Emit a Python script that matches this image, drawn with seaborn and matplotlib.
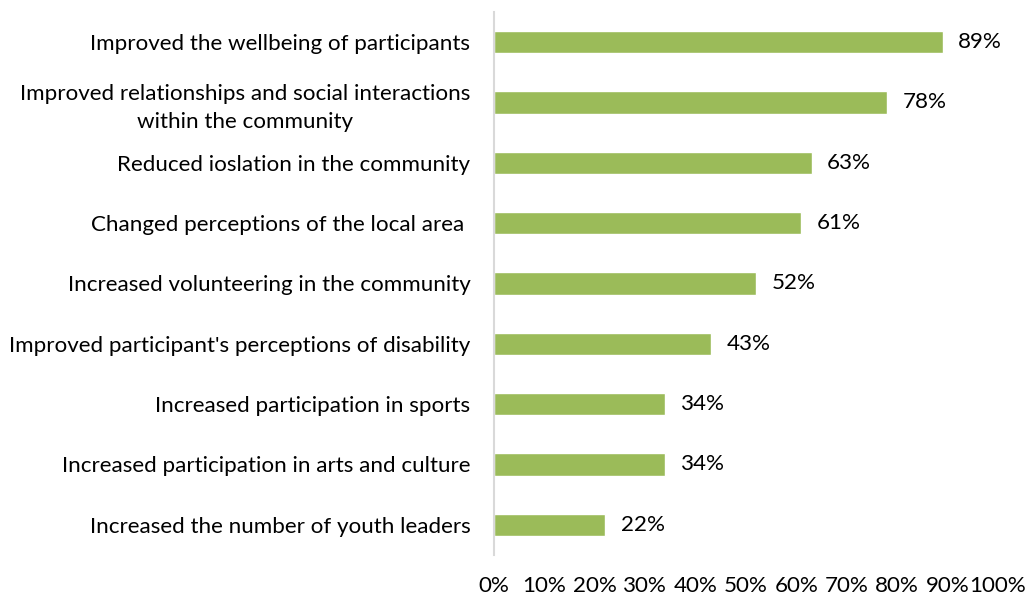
import matplotlib
matplotlib.use("Agg")
import matplotlib.pyplot as plt
import seaborn as sns
import pandas as pd

categories = [
    "Improved the wellbeing of participants",
    "Improved relationships and social interactions\nwithin the community",
    "Reduced ioslation in the community",
    "Changed perceptions of the local area ",
    "Increased volunteering in the community",
    "Improved participant's perceptions of disability",
    "Increased participation in sports",
    "Increased participation in arts and culture",
    "Increased the number of youth leaders",
]
values = [89, 78, 63, 61, 52, 43, 34, 34, 22]
xticks = [0, 10, 20, 30, 40, 50, 60, 70, 80, 90, 100]

sns.set_theme(style="white")
plt.rcParams['font.family'] = ['Lato', 'DejaVu Sans']

df = pd.DataFrame({"cat": categories, "val": values})

fig = plt.figure(figsize=(10.26, 5.95), dpi=100)
ax = fig.add_axes([0.4815, 0.0672, 0.4912, 0.9128])
sns.barplot(data=df, x="val", y="cat", color="#9BBB59", saturation=1,
            width=0.37, ax=ax, orient="h")

FS = 16.1
ax.set_xlim(0, 100)
ax.set_ylim(8.5, -0.5)
ax.set_xticks(xticks)
ax.set_xticklabels([f"{v}%" for v in xticks], fontsize=FS, color="black")
ax.tick_params(axis="x", length=0, pad=15)
ax.tick_params(axis="y", length=0, pad=17, labelsize=FS, labelcolor="black")
for lbl in ax.get_yticklabels():
    lbl.set_multialignment("center")
    lbl.set_linespacing(1.5)
ax.set_xlabel("")
ax.set_ylabel("")
for s in ["top", "right", "bottom"]:
    ax.spines[s].set_visible(False)
ax.spines["left"].set_color("#d9d9d9")
ax.spines["left"].set_linewidth(1.5)

for i, v in enumerate(values):
    ax.text(v + 3.1, i, f"{v}%", va="center", ha="left", fontsize=FS, color="black")

fig.savefig("out.png", dpi=100)
